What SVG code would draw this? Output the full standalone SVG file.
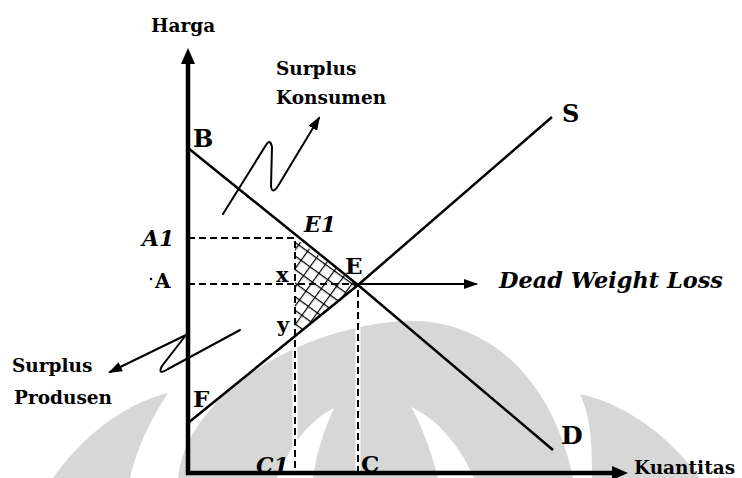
<svg xmlns="http://www.w3.org/2000/svg" width="742" height="478" viewBox="0 0 742 478">
<style>
.lbl{font-family:"DejaVu Serif","Liberation Serif",serif;fill:#000}
.b{font-weight:bold}
.it{font-style:italic;font-weight:bold}
.wm{fill:#d7d7d7;stroke:none}
.ln{fill:none;stroke:#000;stroke-width:2.5;stroke-linejoin:round}
.dash{fill:none;stroke:#000;stroke-width:2;stroke-dasharray:7 4}
.thin{fill:none;stroke:#000;stroke-width:2;stroke-linejoin:round;stroke-linecap:round}
</style>
<defs>
<marker id="ah" viewBox="0 0 16 14" refX="4" refY="7" markerWidth="16" markerHeight="14" markerUnits="userSpaceOnUse" orient="auto-start-reverse"><path d="M0,0 L16,7 L0,14 z" fill="#000"/></marker>
<marker id="sa" viewBox="0 0 14 10" refX="12" refY="5" markerWidth="14" markerHeight="10" markerUnits="userSpaceOnUse" orient="auto"><path d="M0,0 L14,5 L0,10 z" fill="#000"/></marker>
<pattern id="hatch" width="11" height="11" patternUnits="userSpaceOnUse" patternTransform="rotate(36)"><path d="M0,0 H11 M0,0 V11" stroke="#000" stroke-width="2.4"/></pattern>
<clipPath id="tri"><path d="M295,238 L358,285 L295,336 Z"/></clipPath>
</defs>

<g id="watermark">
<path class="wm" d="M53,478 C80,440 120,405 168,393 C150,420 136,450 130,478 Z"/>
<path class="wm" d="M178,478 C185,405 280,332 400,321 C480,316 550,370 573,478 Z"/>
<path fill="#fff" d="M277,478 C290,445 310,420 334,408 C324,430 316,455 313,478 Z"/>
<path fill="#fff" d="M411,407 C440,420 462,450 474,478 L438,478 C432,455 424,430 411,407 Z"/>
<path class="wm" d="M700,478 C672,440 630,405 580,394 C592,420 592,450 592,478 Z"/>
</g>

<g id="connectors">
<path d="M295,300 V471 M358,300 V471" stroke="#fff" stroke-width="5" fill="none"/>
<rect x="295" y="238" width="70" height="100" fill="url(#hatch)" clip-path="url(#tri)"/>
<path class="dash" d="M188,238 H295 V473"/>
<path class="dash" d="M188,284 H358 V473"/>
<path class="ln" d="M188,148 L358,285 L553,450"/>
<path class="ln" d="M188,423 L358,285 L552,117"/>
<path class="thin" d="M358,284 H476" marker-end="url(#sa)"/>
<path class="thin" d="M223,214 L266,145 Q270,138 272,147 L271,186 Q272,195 278,186 L319,118" marker-end="url(#sa)"/>
<path class="thin" d="M240,330 L168,369 Q157,376 162,366 L186,335 L110,372" marker-end="url(#sa)"/>
<path d="M188,60 L188,473 L616,473" fill="none" stroke="#000" stroke-width="4.5" stroke-linejoin="miter" marker-start="url(#ah)" marker-end="url(#ah)"/>
<circle cx="151" cy="279" r="1.3" fill="#000"/>
</g>

<g id="axis-labels">
<text class="lbl b" x="151" y="32" font-size="18.5">Harga</text>
<text class="lbl b" x="634" y="474" font-size="18.5">Kuantitas</text>
</g>
<g id="surplus-konsumen"><text class="lbl b" x="276" y="75" font-size="18.5">Surplus</text><text class="lbl b" x="276" y="104" font-size="18.5">Konsumen</text></g>
<g id="surplus-produsen"><text class="lbl b" x="12" y="372" font-size="18.5">Surplus</text><text class="lbl b" x="14" y="404" font-size="18.5">Produsen</text></g>
<g id="dwl"><text class="lbl it" x="499" y="288" font-size="22" textLength="224" lengthAdjust="spacingAndGlyphs">Dead Weight Loss</text></g>
<g id="points">
<text class="lbl b" x="193" y="147" font-size="24">B</text>
<text class="lbl it" x="142" y="246" font-size="22">A1</text>
<text class="lbl b" x="155" y="288" font-size="20">A</text>
<text class="lbl it" x="304" y="232" font-size="22">E1</text>
<text class="lbl b" x="345" y="274" font-size="23">E</text>
<text class="lbl b" x="276" y="282" font-size="21">x</text>
<text class="lbl b" x="277" y="332" font-size="21">y</text>
<text class="lbl b" x="193" y="407" font-size="23">F</text>
<text class="lbl it" x="256" y="473" font-size="22">C1</text>
<text class="lbl b" x="361" y="472" font-size="23">C</text>
<text class="lbl b" x="561" y="444" font-size="25">D</text>
<text class="lbl b" x="562" y="122" font-size="24">S</text>
</g>
</svg>
